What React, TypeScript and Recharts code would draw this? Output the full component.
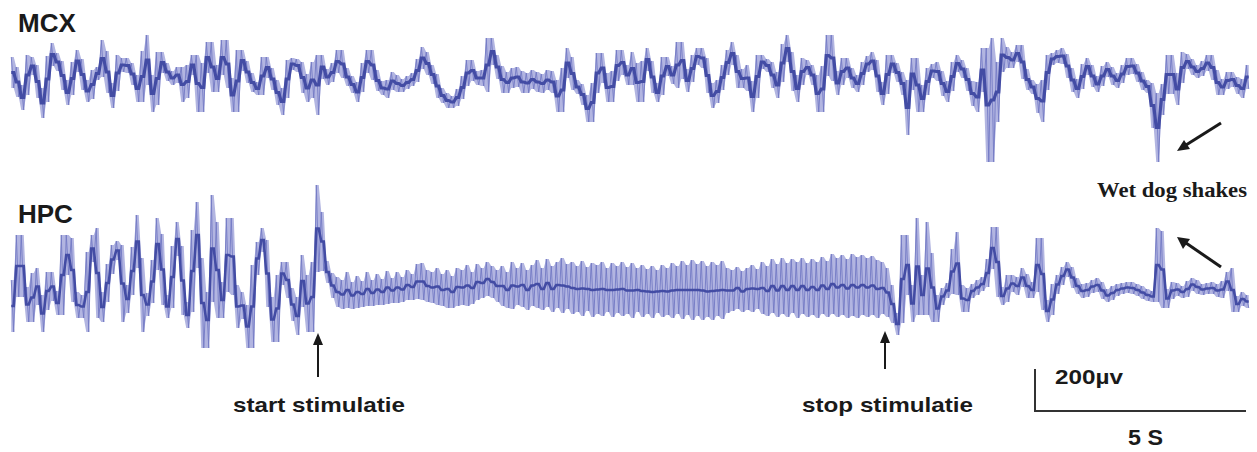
import { ComposedChart, Area, Line, XAxis, YAxis } from 'recharts';

// one column = 0.118 s of recording, each column keeps its max / min (µV)
const COL_DT = 0.118;
const N_COLS = 248;

const mcxHigh = [
  140, 90, 0, 150, 140, 100, -15, 145, 210, 160,
  120, 25, 115, 175, 130, 25, 75, 90, 225, 170,
  10, 150, 135, 135, 110, 50, 170, 250, 50, 165,
  165, 110, 70, 90, 90, 100, 150, 150, 110, 215,
  215, 100, 225, 225, 35, 175, 175, 120, 60, 15,
  140, 140, 85, 25, -15, 125, 135, 130, 115, 55,
  115, 150, 150, 80, 110, 175, 175, 85, 45, 15,
  110, 175, 175, 75, 20, 25, 65, 50, 30, 45,
  60, 130, 190, 165, 100, 55, -15, -40, -55, -20,
  45, 125, 125, 70, 75, 235, 235, 150, 95, 65,
  85, 90, 70, 60, 75, 65, 55, 75, 70, 25,
  85, 185, 140, 25, 5, -50, 10, 160, 160, 60,
  70, 175, 175, 100, 165, 110, 120, 185, 120, 10,
  140, 140, 95, 215, 215, 80, 150, 185, 185, 135,
  10, 25, 100, 175, 215, 150, 80, 100, 20, 150,
  150, 130, 115, 65, 205, 250, 165, 50, 135, 125,
  100, 50, 95, 250, 250, 70, 135, 135, 85, 50,
  115, 145, 165, 125, 15, 150, 150, 110, 65, 25,
  135, 135, 0, 85, 105, 115, 70, 20, 115, 150,
  125, 85, 20, 15, 185, 185, 235, 115, 235, 190,
  165, 200, 200, 80, 25, 5, 25, 150, 160, 175,
  185, 155, 85, 30, 105, 135, 100, 45, 95, 115,
  90, 60, 100, 135, 135, 105, 65, 25, 10, -40,
  5, 150, 150, 60, 165, 155, 130, 100, 120, 150,
  150, 75, 30, 65, 65, 40, 30, 100,
];

const mcxLow = [
  -15, -60, -125, -50, 50, -65, -165, -85, 95, 70,
  -25, -100, -50, 65, -25, -85, -70, 25, 40, -40,
  -115, -30, 65, 60, 0, -85, -85, 0, -135, -100,
  60, 20, 0, 10, -85, -65, 50, -135, -135, 60,
  -35, -35, 50, -15, -135, -135, 70, 10, -35, -50,
  -50, 35, -25, -100, -150, -65, 75, 65, -40, -85,
  -65, -150, 30, 0, 15, 60, 35, -5, -40, -85,
  -35, 60, 25, -30, -50, -65, -25, -35, -35, -20,
  -5, 15, 80, 50, 5, -65, -90, -115, -115, -105,
  -70, -5, 20, 0, -5, -35, 100, 30, -40, -40,
  -15, -10, -40, -40, -20, -35, -40, -25, -40, -135,
  -135, 35, -25, -45, -100, -185, -185, -40, 10, -85,
  -85, 20, 50, 0, 0, -85, -85, 70, -40, -85,
  -50, 45, 5, -15, 30, -35, 15, 100, 85, -40,
  -115, -90, -25, 50, 100, -15, -15, -30, -135, -65,
  80, 65, -15, -65, 15, 115, -30, -85, 0, 50,
  0, -135, -135, 45, 20, -50, 0, 35, -15, -35,
  0, 65, 75, -35, -100, -45, 60, 15, -50, -250,
  -25, -135, -135, -50, 35, 20, -55, -85, -30, 65,
  35, -30, -105, -135, -35, -385, -385, -185, 65, 85,
  85, 115, 30, -25, -45, -140, -185, -25, 100, 110,
  105, 35, -35, -65, -20, 50, -10, -35, -5, 40,
  0, -15, 10, 50, 55, 15, -25, -40, -215, -385,
  -150, -45, -45, -100, 10, 80, 50, 35, 45, 70,
  25, -50, -50, -20, -10, -45, -65, -20,
];

const hpcHigh = [
  50, 275, 275, 15, 85, 110, -25, 90, 90, -5,
  275, 275, 260, -10, -25, 190, 275, 310, -10, 130,
  225, 245, 225, 25, 215, 375, 160, -15, 150, 360,
  280, -25, 220, 340, 220, -60, 300, 440, 160, -10,
  475, 340, 40, 360, 360, 25, -10, -75, 125, 240,
  310, 250, -35, 75, 140, 140, 10, -35, 175, 75,
  140, 525, 390, 145, 85, 65, 50, 90, 40, 70,
  45, 90, 50, 80, 55, 95, 60, 90, 65, 100,
  80, 130, 135, 100, 90, 110, 80, 100, 70, 110,
  100, 125, 90, 130, 110, 140, 120, 100, 120, 90,
  140, 110, 135, 100, 125, 150, 110, 155, 120, 140,
  160, 130, 140, 120, 145, 115, 135, 125, 140, 110,
  135, 120, 140, 115, 135, 110, 125, 105, 120, 100,
  125, 110, 135, 120, 145, 125, 150, 130, 145, 120,
  140, 125, 145, 110, 100, 115, 95, 110, 125, 105,
  140, 120, 155, 130, 160, 135, 155, 140, 160, 135,
  155, 140, 165, 145, 180, 160, 175, 155, 180, 165,
  175, 160, 170, 150, 140, 110, 25, -115, 275, 275,
  25, 360, 75, 340, 185, -25, 10, 35, 205, 290,
  25, 10, 30, 50, 65, 155, 315, 315, 15, 75,
  75, 65, 110, 80, 40, 260, 260, -50, 30, 75,
  115, 140, 115, 60, 30, 35, 50, 60, 40, 5,
  20, 30, 35, 40, 40, 30, 20, 5, -5, 310,
  295, 5, 40, 35, 20, 45, 60, 50, 30, 35,
  40, 30, 45, 90, 110, -30, -10, -25,
];

const hpcLow = [
  -210, -35, -35, -160, -160, -75, -210, -100, -55, -125,
  -125, 75, -60, -140, -140, -210, 140, -140, -160, -60,
  80, 150, -160, -115, -25, 110, -210, -130, -65, 100,
  -75, -140, -90, 170, -125, -190, -110, 110, -290, -290,
  -60, -140, -140, -10, -25, -190, -145, -290, -290, 75,
  190, -85, -260, -260, 25, -40, -155, -225, -85, -210,
  -210, 90, 95, 35, -40, -85, -95, -90, -95, -90,
  -85, -80, -80, -75, -75, -70, -65, -65, -60, -50,
  -50, -45, -50, -60, -65, -75, -80, -90, -90, -80,
  -75, -80, -70, -50, -40, -30, -40, -60, -80, -90,
  -95, -75, -85, -100, -80, -90, -100, -85, -110, -90,
  -115, -95, -120, -110, -130, -105, -135, -120, -130, -110,
  -135, -115, -130, -120, -140, -110, -135, -120, -140, -115,
  -135, -125, -140, -120, -145, -125, -150, -130, -150, -135,
  -150, -130, -145, -115, -105, -95, -110, -100, -110, -95,
  -120, -130, -115, -135, -120, -135, -115, -140, -120, -135,
  -125, -140, -120, -135, -120, -135, -125, -140, -130, -140,
  -125, -135, -125, -140, -120, -135, -165, -225, -165, -25,
  -160, -125, -125, -125, -160, -160, -75, -40, -20, -25,
  -110, -110, -40, -25, -5, 15, 105, -35, -75, -60,
  -10, -25, 15, -40, -40, -10, -100, -160, -125, -20,
  25, 65, 10, -20, -40, -35, -15, -10, -45, -60,
  -50, -30, -20, -15, -20, -30, -45, -55, -60, -60,
  -90, -90, -45, -30, -40, -35, -5, -20, -25, -20,
  -20, -35, -40, -5, -110, -110, -80, -90,
];

// each column: light envelope (max..min), a thin zigzag max -> min inside it,
// and the dark mid trace on top
const toColumns = (hi: number[], lo: number[]) =>
  hi.flatMap((h, i) => [
    { t: (i + 0.25) * COL_DT, band: [lo[i], h], v: h, mid: (h + lo[i]) / 2 },
    { t: (i + 0.75) * COL_DT, band: [lo[i], h], v: lo[i], mid: (h + lo[i]) / 2 },
  ]);

const mcxData = toColumns(mcxHigh, mcxLow);
const hpcData = toColumns(hpcHigh, hpcLow);

const CORE_COLOR = '#434ca4';
const SPIKE_COLOR = '#7379c4';
const FUZZ_COLOR = '#b2b5e1';
const INK = '#1a1a1a';
const SANS = '"Liberation Sans", Arial, sans-serif';

interface TraceProps {
  data: { t: number; band: number[]; v: number; mid: number }[];
  top: number;
  height: number;
  yDomain: [number, number];
  coreWidth: number;
}

const Trace = ({ data, top, height, yDomain, coreWidth }: TraceProps) => (
  <div style={{ position: 'absolute', left: 10, top }}>
    <ComposedChart width={1240} height={height} data={data} margin={{ top: 0, right: 0, bottom: 0, left: 0 }}>
      <XAxis dataKey="t" type="number" domain={[0, N_COLS * COL_DT]} hide allowDataOverflow />
      <YAxis type="number" domain={yDomain} hide allowDataOverflow />
      <Area
        type="linear"
        dataKey="band"
        stroke="none"
        fill={FUZZ_COLOR}
        fillOpacity={1}
        dot={false}
        activeDot={false}
        isAnimationActive={false}
      />
      <Line
        type="linear"
        dataKey="v"
        stroke={SPIKE_COLOR}
        strokeWidth={0.9}
        dot={false}
        activeDot={false}
        isAnimationActive={false}
      />
      <Line
        type="linear"
        dataKey="mid"
        stroke={CORE_COLOR}
        strokeWidth={coreWidth}
        dot={false}
        activeDot={false}
        isAnimationActive={false}
      />
    </ComposedChart>
  </div>
);

export default function App() {
  return (
    <div style={{ position: 'absolute', left: 0, top: 0, width: 1257, height: 452, background: '#fff' }}>
      <Trace data={mcxData} top={30} height={140} yDomain={[-425, 275]} coreWidth={3.2} />
      <Trace data={hpcData} top={180} height={170} yDomain={[-300, 550]} coreWidth={2.6} />

      <svg width={1257} height={452} style={{ position: 'absolute', left: 0, top: 0, pointerEvents: 'none' }}>
        <text x={18} y={32} fontFamily={SANS} fontWeight="bold" fontSize={26} fill={INK}>MCX</text>
        <text x={18} y={223} fontFamily={SANS} fontWeight="bold" fontSize={26} fill={INK}>HPC</text>

        <text x={1097} y={197} fontFamily='"Liberation Serif", "Times New Roman", serif' fontWeight="bold"
          fontSize={21} fill={INK} textLength={150} lengthAdjust="spacingAndGlyphs">Wet dog shakes</text>

        {/* arrows pointing at the wet dog shakes */}
        <line x1={1221} y1={123} x2={1186} y2={145} stroke={INK} strokeWidth={3} />
        <polygon points="1177,151 1184,140 1190,149" fill={INK} />
        <line x1={1221} y1={267} x2={1186} y2={243} stroke={INK} strokeWidth={3} />
        <polygon points="1177,237 1190,239 1183,249" fill={INK} />

        {/* stimulation markers */}
        <line x1={318} y1={377} x2={318} y2={342} stroke={INK} strokeWidth={2} />
        <polygon points="318,333 313,345 323,345" fill={INK} />
        <text x={233} y={412} fontFamily={SANS} fontWeight="bold" fontSize={21} fill={INK}
          textLength={172} lengthAdjust="spacingAndGlyphs">start stimulatie</text>

        <line x1={885} y1={369} x2={885} y2={340} stroke={INK} strokeWidth={2} />
        <polygon points="885,331 880,343 890,343" fill={INK} />
        <text x={802} y={412} fontFamily={SANS} fontWeight="bold" fontSize={21} fill={INK}
          textLength={171} lengthAdjust="spacingAndGlyphs">stop stimulatie</text>

        {/* scale bar */}
        <path d="M1035 369 V411 H1246" fill="none" stroke="#333" strokeWidth={2} />
        <text x={1055} y={384} fontFamily={SANS} fontWeight="bold" fontSize={20} fill={INK}
          textLength={68} lengthAdjust="spacingAndGlyphs">200µv</text>
        <text x={1128} y={445} fontFamily={SANS} fontWeight="bold" fontSize={22} fill={INK}
          textLength={35} lengthAdjust="spacingAndGlyphs">5 S</text>
      </svg>
    </div>
  );
}
